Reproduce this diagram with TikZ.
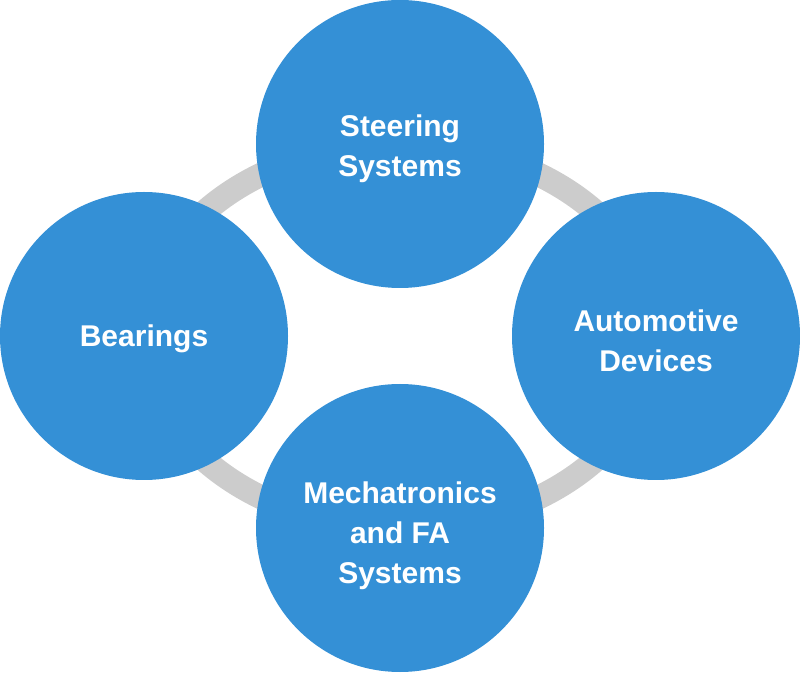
\documentclass[tikz,border=0pt]{standalone}
\usepackage{fontspec}
\setmainfont{Liberation Sans}
\definecolor{ballblue}{RGB}{52,144,214}
\definecolor{ringgray}{RGB}{204,204,204}
\begin{document}
\begin{tikzpicture}[x=1pt,y=1pt,
  ball/.style={circle,fill=ballblue,draw=none,minimum size=288pt,inner sep=0pt},
  balltext/.style={text=white,font=\fontsize{30}{40}\selectfont\bfseries,align=center,yshift=-5pt},
  ring/.style={draw=ringgray,line width=24pt}]
\useasboundingbox (0,0) rectangle (800,672);
\coordinate (c) at (400,336);
\draw[ring] (c) ellipse [x radius=256, y radius=192];
\node[ball,label={[balltext]center:Steering\\Systems}] (steer) at (400,528) {};
\node[ball,label={[balltext,yshift=2pt]center:Bearings}] (bear) at (144,336) {};
\node[ball,label={[balltext]center:Automotive\\Devices}] (auto) at (656,336) {};
\node[ball,label={[balltext,yshift=-3pt]center:Mechatronics\\and FA\\Systems}] (mech) at (400,144) {};
\end{tikzpicture}
\end{document}
